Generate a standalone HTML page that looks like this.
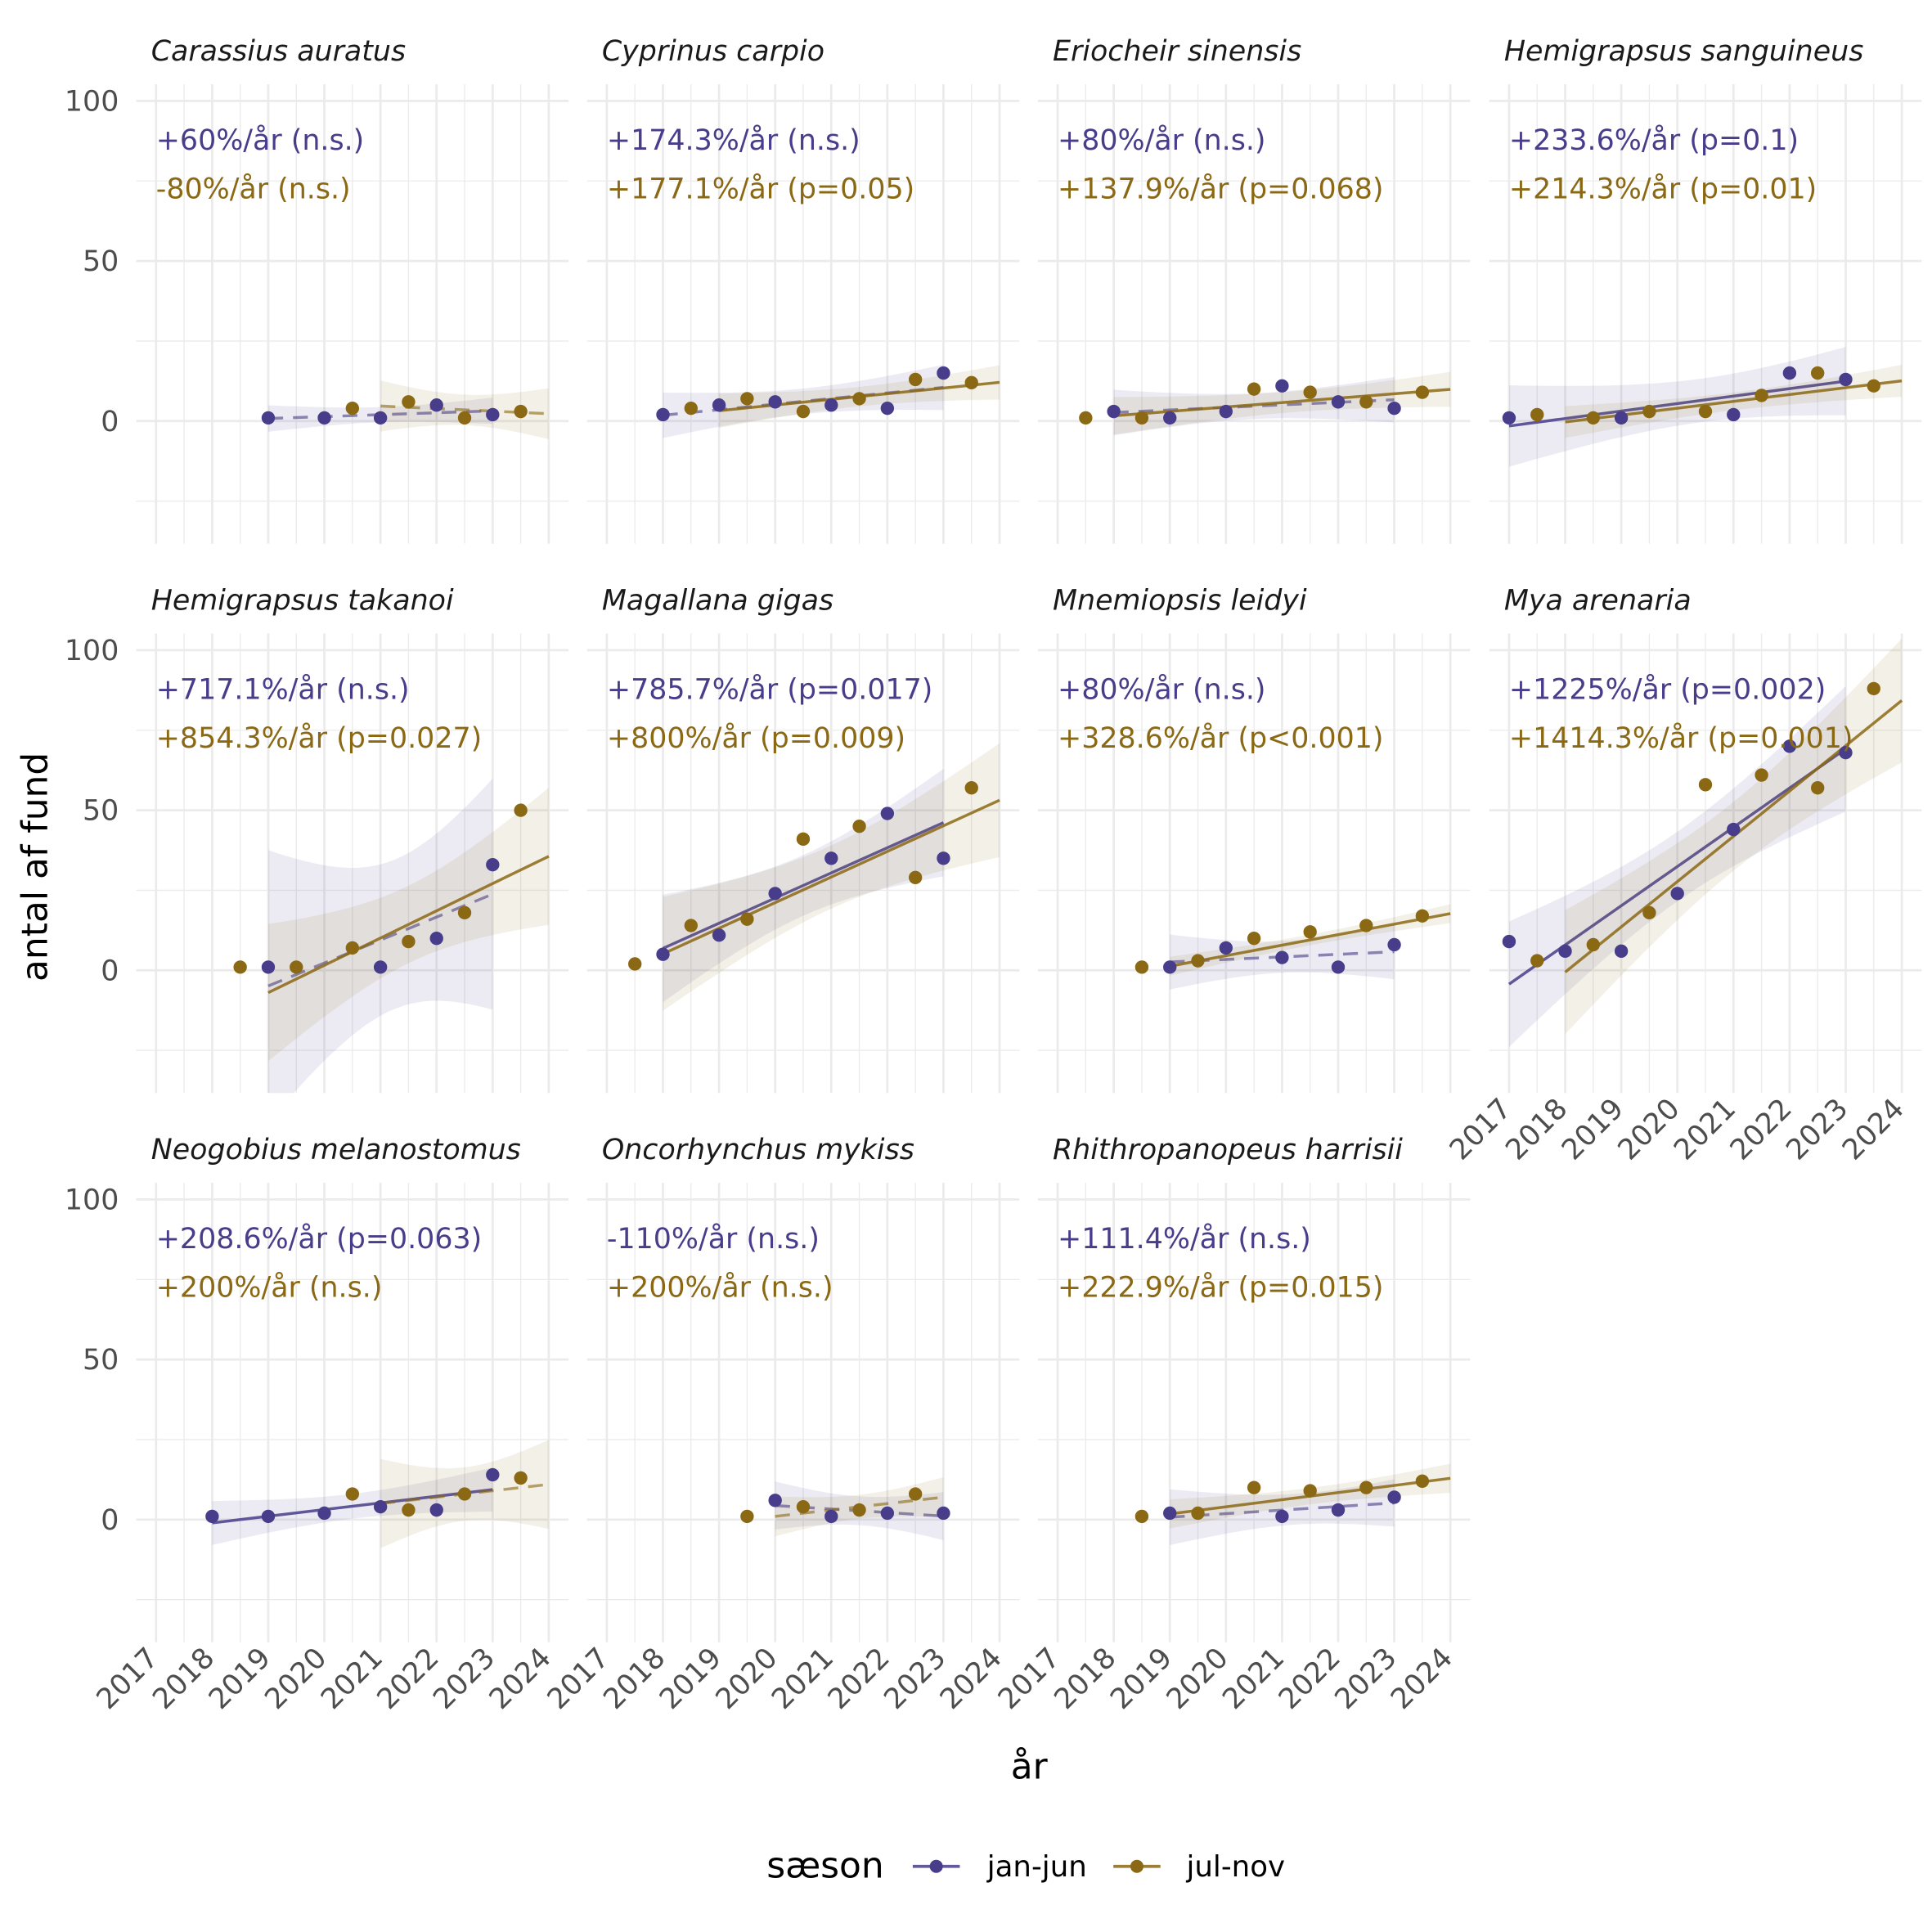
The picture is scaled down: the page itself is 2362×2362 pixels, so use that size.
<!DOCTYPE html>
<html><head><meta charset="utf-8"><style>
html,body{margin:0;padding:0;background:#fff;}
svg{display:block;font-family:"DejaVu Sans","Liberation Sans",sans-serif;}
</style></head><body>
<svg id="chart" xmlns="http://www.w3.org/2000/svg" width="2362" height="2362" viewBox="0 0 1560 1560">
<rect width="1560" height="1560" fill="#fff"/>
<g id="panels"></g>
<text x="0" y="0" transform="translate(38,700) rotate(-90)" text-anchor="middle" font-size="29" fill="#000">antal af fund</text>
<text x="831" y="1436" text-anchor="middle" font-size="29" fill="#000">år</text>
<g>
<text x="619" y="1516" font-size="29" fill="#000">sæson</text>
<g><line x1="737" y1="1507" x2="775" y2="1507" stroke="#483D8B" stroke-opacity="0.85" stroke-width="2.4"/><circle cx="756" cy="1507" r="5.3" fill="#483D8B"/><text x="797" y="1515" font-size="23.5" fill="#000">jan-jun</text></g>
<g><line x1="899" y1="1507" x2="937" y2="1507" stroke="#8B6914" stroke-opacity="0.85" stroke-width="2.4"/><circle cx="918" cy="1507" r="5.3" fill="#8B6914"/><text x="958" y="1515" font-size="23.5" fill="#000">jul-nov</text></g>
</g>
</svg>
<script>
// ---- data ----
const species = ["Carassius auratus","Cyprinus carpio","Eriocheir sinensis","Hemigrapsus sanguineus","Hemigrapsus takanoi","Magallana gigas","Mnemiopsis leidyi","Mya arenaria","Neogobius melanostomus","Oncorhynchus mykiss","Rhithropanopeus harrisii"];
const janYears = [[2019,2020,2021,2022,2023],[2018,2019,2020,2021,2022,2023],[2018,2019,2020,2021,2022,2023],[2017,2019,2021,2022,2023],[2019,2021,2022,2023],[2018,2019,2020,2021,2022,2023],[2019,2020,2021,2022,2023],[2017,2018,2019,2020,2021,2022,2023],[2018,2019,2020,2021,2022,2023],[2020,2021,2022,2023],[2019,2021,2022,2023]];
const janCounts = [[1,1,1,5,2],[2,5,6,5,4,15],[3,1,3,11,6,4],[1,1,2,15,13],[1,1,10,33],[5,11,24,35,49,35],[1,7,4,1,8],[9,6,6,24,44,70,68],[1,1,2,4,3,14],[6,1,2,2],[2,1,3,7]];
const julYears = [[2020,2021,2022,2023],[2018,2019,2020,2021,2022,2023],[2017,2018,2020,2021,2022,2023],[2017,2018,2019,2020,2021,2022,2023],[2018,2019,2020,2021,2022,2023],[2017,2018,2019,2020,2021,2022,2023],[2018,2019,2020,2021,2022,2023],[2017,2018,2019,2020,2021,2022,2023],[2020,2021,2022,2023],[2019,2020,2021,2022],[2018,2019,2020,2021,2022,2023]];
const julCounts = [[4,6,1,3],[4,7,3,7,13,12],[1,1,10,9,6,9],[2,1,3,3,8,15,11],[1,1,7,9,18,50],[2,14,16,41,45,29,57],[1,3,10,12,14,17],[3,8,18,58,61,57,88],[8,3,8,13],[1,4,3,8],[1,2,10,9,10,12]];
const janLabels = ["+60%/år (n.s.)","+174.3%/år (n.s.)","+80%/år (n.s.)","+233.6%/år (p=0.1)","+717.1%/år (n.s.)","+785.7%/år (p=0.017)","+80%/år (n.s.)","+1225%/år (p=0.002)","+208.6%/år (p=0.063)","-110%/år (n.s.)","+111.4%/år (n.s.)"];
const julLabels = ["-80%/år (n.s.)","+177.1%/år (p=0.05)","+137.9%/år (p=0.068)","+214.3%/år (p=0.01)","+854.3%/år (p=0.027)","+800%/år (p=0.009)","+328.6%/år (p<0.001)","+1414.3%/år (p=0.001)","+200%/år (n.s.)","+200%/år (n.s.)","+222.9%/år (p=0.015)"];
const xTicks = [2017,2018,2019,2020,2021,2022,2023,2024];
const yTicks = [0,50,100];
const yMinor = [-25,25,75];

// ---- layout ----
const NS = "http://www.w3.org/2000/svg";
const colX0 = [126,490,854,1218.5];
const rowY0 = [340,783.5,1227];
const PX_YR = 45.3, PX_UNIT = 2.585;
const PUR = "#483D8B", GLD = "#8B6914";
const tq = {1:12.706,2:4.303,3:3.182,4:2.776,5:2.571,6:2.447,7:2.365,8:2.306};
const root = document.getElementById("panels");
function mk(tag, attrs, parent){const e=document.createElementNS(NS,tag);for(const k in attrs)e.setAttribute(k,attrs[k]);parent.appendChild(e);return e;}

function fit(xs, ys){
  const n=xs.length, mx=xs.reduce((a,b)=>a+b,0)/n, my=ys.reduce((a,b)=>a+b,0)/n;
  let sxx=0,sxy=0;for(let i=0;i<n;i++){sxx+=(xs[i]-mx)**2;sxy+=(xs[i]-mx)*(ys[i]-my);}
  const b=sxy/sxx, a=my-b*mx;
  let sse=0;for(let i=0;i<n;i++){sse+=(ys[i]-a-b*xs[i])**2;}
  const s=Math.sqrt(sse/Math.max(n-2,1));
  return {a,b,s,n,mx,sxx,t:tq[Math.max(n-2,1)]||2.3};
}

species.forEach((name, i) => {
  const col = i % 4, row = Math.floor(i / 4);
  const x0 = colX0[col], y0 = rowY0[row];
  const X = yr => x0 + (yr - 2017) * PX_YR;
  const Y = v => y0 - v * PX_UNIT;
  const left = x0 - 16, right = x0 + 7*PX_YR + 16, top = y0 - 272, bottom = y0 + 99;
  const g = mk("g", {}, root);
  
  
  const cid = "clip" + i;
  const cp = mk("clipPath", {id: cid}, g);
  mk("rect", {x: left, y: top, width: right-left, height: bottom-top}, cp);
  const grid = mk("g", {}, g);
  
  
  yMinor.forEach(v => mk("line", {x1:left,x2:right,y1:Y(v),y2:Y(v),stroke:"#ebebeb","stroke-width":0.9}, grid));
  xTicks.slice(0,-1).forEach(yr => mk("line", {x1:X(yr+0.5),x2:X(yr+0.5),y1:top,y2:bottom,stroke:"#ebebeb","stroke-width":0.9}, grid));
  yTicks.forEach(v => mk("line", {x1:left,x2:right,y1:Y(v),y2:Y(v),stroke:"#ebebeb","stroke-width":1.8}, grid));
  xTicks.forEach(yr => mk("line", {x1:X(yr),x2:X(yr),y1:top,y2:bottom,stroke:"#ebebeb","stroke-width":1.8}, grid));
  const st = mk("text", {x: x0-4, y: y0-291, "font-size": 23, "font-style":"italic", fill:"#1a1a1a"}, g);
  
  
  st.textContent = name;
  if (col === 0) {
    yTicks.forEach(v => {
      const t = mk("text", {x: 96, y: Y(v)+8, "text-anchor":"end", "font-size":23, fill:"#4d4d4d"}, g);
      
      
      t.textContent = v;
    });
  }
  const lastRow = (row === 2) || (row === 1 && col === 3);
  if (lastRow) {
    xTicks.forEach(yr => {
      const ax = X(yr) + 3, ay = bottom + 14;
      const t = mk("text", {x: 0, y: 0, transform:`translate(${ax},${ay}) rotate(-45)`, "text-anchor":"end", "font-size":23, fill:"#4d4d4d"}, g);
      
      
      t.textContent = yr;
    });
  }
  const clipG = mk("g", {"clip-path": `url(#${cid})`}, g);
  const series = [
    {ys: janYears[i], vs: janCounts[i], off: 0, c: PUR, lab: janLabels[i], key: "jan-jun"},
    {ys: julYears[i], vs: julCounts[i], off: 0.5, c: GLD, lab: julLabels[i], key: "jul-nov"}
  ];
  series.forEach(s => {
    const xs = s.ys.map(y => y + 2*s.off);
    const f = fit(xs, s.vs);
    const xa = xs[0], xb = xs[xs.length-1];
    const up = [], lo = [];
    const N = 30;
    for (let k=0;k<=N;k++){
      const xx = xa + (xb-xa)*k/N;
      const yh = f.a + f.b*xx;
      const se = f.s*Math.sqrt(1/f.n + (xx-f.mx)**2/f.sxx);
      up.push([X(xx), Y(yh + f.t*se)]);
      lo.push([X(xx), Y(yh - f.t*se)]);
    }
    const pts = up.concat(lo.reverse()).map(p=>p[0].toFixed(1)+","+p[1].toFixed(1)).join(" ");
    const band = mk("polygon", {points: pts, fill: s.c, "fill-opacity": 0.1}, clipG);
    
    
    const dashed = s.lab.indexOf("n.s.") >= 0;
    const ln = mk("line", {x1: X(xa), y1: Y(f.a+f.b*xa), x2: X(xb), y2: Y(f.a+f.b*xb), stroke: s.c, "stroke-width": 2.3, "stroke-opacity": dashed ? 0.6 : 0.85}, clipG);
    if (dashed) ln.setAttribute("stroke-dasharray", "12,8");
    
    
  });
  series.forEach(s => {
    s.ys.forEach((yr, k) => {
      const c = mk("circle", {cx: X(yr + s.off), cy: Y(s.vs[k]), r: 5.4, fill: s.c}, clipG);
      
      
    });
  });
  series.forEach((s, k) => {
    const t = mk("text", {x: x0, y: y0 - 219 + k*39, "font-size": 23, fill: s.c}, g);
    
    
    t.textContent = s.lab;
  });
});
</script>
</body></html>
